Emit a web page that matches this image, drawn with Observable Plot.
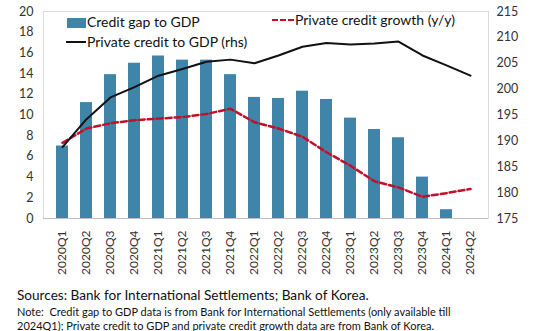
<!DOCTYPE html>
<html>
<head>
<meta charset="utf-8">
<script src="https://cdn.jsdelivr.net/npm/d3@7"></script>
<script src="https://cdn.jsdelivr.net/npm/@observablehq/plot@0.6"></script>
<style>
  body { margin: 0; background: #fff; }
  #wrap { position: relative; width: 534px; height: 331px; font-family: Lato, "Open Sans", sans-serif; color: #222; overflow: hidden; }
  .lg { position: absolute; font-size: 14px; white-space: nowrap; line-height: 1; color: #111; }
  .foot { position: absolute; left: 17px; white-space: nowrap; color: #111; line-height: 1; }
</style>
</head>
<body>
<div id="wrap">
  <div id="chart"></div>
  <div class="lg" style="left:67px;top:15px;"><span style="display:inline-block;width:19px;height:10px;background:#3f85aa;vertical-align:-1px;margin-right:1px"></span>Credit gap to GDP</div>
  <div class="lg" style="left:66px;top:35px;"><span style="display:inline-block;width:20px;height:0;border-top:2px solid #111;vertical-align:4px;margin-right:1px"></span>Private credit to GDP (rhs)</div>
  <div class="lg" style="left:272px;top:13px;"><span style="display:inline-block;width:22px;height:0;border-top:2.5px dashed #c0102a;vertical-align:4px;margin-right:1px"></span>Private credit growth (y/y)</div>
  <div class="foot" style="top:289px;font-size:13.6px;">Sources: Bank for International Settlements; Bank of Korea.</div>
  <div class="foot" style="top:306px;font-size:11px;">Note:&nbsp; Credit gap to GDP data is from Bank for International Settlements (only available till</div>
  <div class="foot" style="top:320px;font-size:11px;">2024Q1); Private credit to GDP and private credit growth data are from Bank of Korea.</div>
</div>
<script>
const quarters = ["2020Q1","2020Q2","2020Q3","2020Q4","2021Q1","2021Q2","2021Q3","2021Q4","2022Q1","2022Q2","2022Q3","2022Q4","2023Q1","2023Q2","2023Q3","2023Q4","2024Q1","2024Q2"];
const creditGap = [7.0, 11.2, 13.9, 15.0, 15.7, 15.3, 15.3, 13.9, 11.7, 11.6, 12.3, 11.5, 9.7, 8.6, 7.8, 4.0, 0.85, null];
const creditGrowth = [7.3, 8.7, 9.2, 9.5, 9.65, 9.8, 10.1, 10.6, 9.3, 8.7, 7.9, 6.4, 5.1, 3.6, 3.0, 2.1, 2.45, 2.85];
const creditToGDP = [188.8, 194.2, 198.4, 200.4, 202.6, 203.9, 205.3, 205.7, 205.0, 206.5, 208.2, 208.9, 208.6, 208.8, 209.2, 206.5, 204.6, 202.6];
const leftTicks = [0, 2, 4, 6, 8, 10, 12, 14, 16, 18, 20];
const rightTicks = [175, 180, 185, 190, 195, 200, 205, 210, 215];

const rMin = 175, rMax = 215, lMax = 20;
const toLeft = v => (v - rMin) / (rMax - rMin) * lMax;

const rows = quarters.map((q, i) => ({q, gap: creditGap[i], growth: creditGrowth[i], ratio: creditToGDP[i]}));

const chart = Plot.plot({
  width: 534,
  height: 286,
  marginTop: 11,
  marginBottom: 68,
  marginLeft: 43,
  marginRight: 46,
  style: {fontFamily: "Lato, 'Open Sans', sans-serif", fontSize: "12px", color: "#333"},
  x: {type: "band", domain: quarters, padding: 0.5},
  y: {domain: [0, lMax]},
  marks: [
    Plot.frame({stroke: "#d9d9d9"}),
    Plot.axisX({tickSize: 0, tickPadding: 12, tickRotate: -90, fontSize: 12, label: null}),
    Plot.axisY(leftTicks, {anchor: "left", tickSize: 0, tickPadding: 10, fontSize: 12.5, label: null}),
    Plot.axisY(rightTicks.map(toLeft), {anchor: "right", tickSize: 0, tickPadding: 8, fontSize: 12.5, label: null,
      tickFormat: d => String(Math.round(d / lMax * (rMax - rMin) + rMin))}),
    Plot.barY(rows.filter(d => d.gap != null), {x: "q", y: "gap", fill: "#3f85aa"}),
    Plot.ruleY([0], {stroke: "#bfbfbf"}),
    Plot.line(rows, {x: "q", y: "growth", stroke: "#c0102a", strokeWidth: 2.5, strokeDasharray: "6,3"}),
    Plot.line(rows, {x: "q", y: d => toLeft(d.ratio), stroke: "#111", strokeWidth: 2})
  ]
});
document.getElementById("chart").appendChild(chart);
</script>
</body>
</html>
